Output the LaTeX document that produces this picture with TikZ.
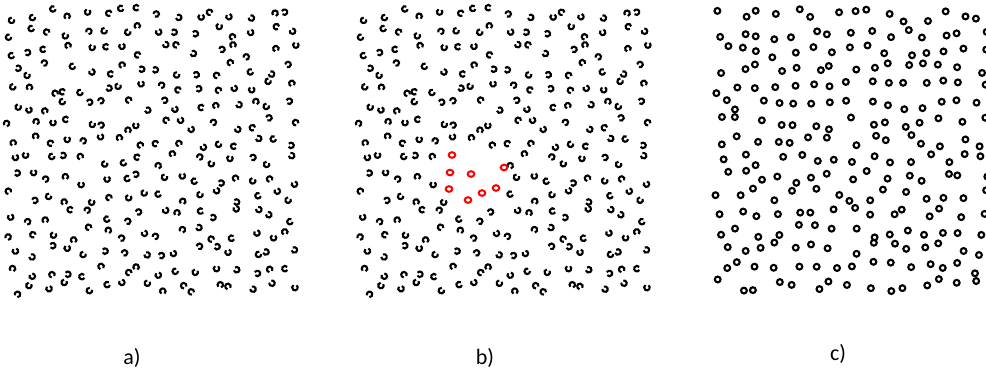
\documentclass[tikz,border=0pt]{standalone}
\usepackage{fontspec}
\setmainfont{Carlito}
\usepackage{tikz}
\definecolor{ringred}{RGB}{255,0,0}

\begin{document}
\begin{tikzpicture}[x=1pt, y=-1pt,
    ring/.style={line width=2.1pt, draw=black},
    target/.style={line width=2.0pt, draw=ringred},
    panel/.style={font=\fontsize{22}{26}\selectfont, anchor=base}
]
\useasboundingbox (0,0) rectangle (986,376);
\clip (0,0) rectangle (986,376);

% a) and b): the same field of C's, gap on a random side
\foreach \xo/\hole in {0/0, 352/1}{
  \pgfmathsetseed{731}
  \foreach \i in {0,...,15}{
    \foreach \j in {0,...,15}{
      \pgfmathsetmacro\px{12+\i*18.5+6.5*rand}
      \pgfmathsetmacro\py{14+\j*18.3+6.5*rand}
      \pgfmathsetmacro\gap{360*rnd}
      \pgfmathtruncatemacro\drop{\hole*((\px>92)&&(\px<158)&&(\py>148)&&(\py<206))}
      \ifnum\drop=0
        \draw[ring] (\xo+\px,\py) ++(\gap:2.8) arc[start angle=\gap, end angle=\gap+295, radius=2.8];
      \fi
    }
  }
}

% b): closed red rings
\foreach \cx/\cy in {452/155, 450/172.5, 449/189, 471/174, 468/200, 482/193, 496/188, 504/167.5}
  \draw[target] (\cx,\cy) ellipse[x radius=3.3, y radius=2.8];

% c): closed rings only
\pgfmathsetseed{2718}
\foreach \i in {0,...,15}{
  \foreach \j in {0,...,15}{
    \pgfmathsetmacro\px{722+\i*18.5+6.5*rand}
    \pgfmathsetmacro\py{15+\j*18.0+6.5*rand}
    \draw[ring] (\px,\py) circle[radius=2.9];
  }
}

\node[panel] (la) at (132,364) {a)};
\node[panel] (lb) at (485,364) {b)};
\node[panel] (lc) at (838,360) {c)};
\end{tikzpicture}
\end{document}
